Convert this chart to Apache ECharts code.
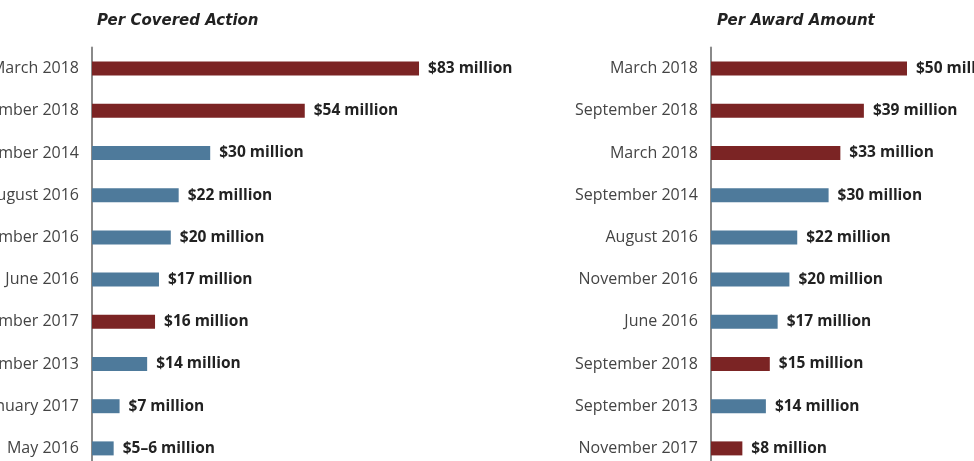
<!DOCTYPE html>
<html><head><meta charset="utf-8">
<script src="https://cdn.jsdelivr.net/npm/echarts@6/dist/echarts.min.js"></script>
<style>html,body{margin:0;padding:0;background:#fff}#c{width:974px;height:461px}</style>
</head><body><div id="c"></div>
<script>
// Per Covered Action
const actionCategories = ['March 2018','September 2018','September 2014','August 2016','November 2016','June 2016','November 2017','September 2013','January 2017','May 2016'];
const actionValues = [83, 54, 30, 22, 20, 17, 16, 14, 7, 5.5];
const actionLabels = ['$83 million','$54 million','$30 million','$22 million','$20 million','$17 million','$16 million','$14 million','$7 million','$5–6 million'];
const actionGroups = ['recent','recent','earlier','earlier','earlier','earlier','recent','earlier','earlier','earlier'];
// Per Award Amount
const awardCategories = ['March 2018','September 2018','March 2018','September 2014','August 2016','November 2016','June 2016','September 2018','September 2013','November 2017'];
const awardValues = [50, 39, 33, 30, 22, 20, 17, 15, 14, 8];
const awardLabels = ['$50 million','$39 million','$33 million','$30 million','$22 million','$20 million','$17 million','$15 million','$14 million','$8 million'];
const awardGroups = ['recent','recent','recent','earlier','earlier','earlier','earlier','recent','earlier','recent'];

const colors = {recent:'#7B2424', earlier:'#4E7A9B'};
const FONT = '"Open Sans", sans-serif';
const TFONT = '"DejaVu Sans", sans-serif';

function mkData(vals, groups){
  return vals.map((v,i)=>({value:v, itemStyle:{color:colors[groups[i]]}}));
}
function catAxis(idx, cats){
  return {type:'category', gridIndex:idx, data:cats, inverse:true,
    axisLine:{show:true, lineStyle:{color:'#8a8a8a', width:2}},
    axisTick:{show:false},
    axisLabel:{margin:13, fontSize:16, color:'#444', fontFamily:FONT}};
}
function valAxis(idx){
  return {type:'value', gridIndex:idx, min:0, max:100, show:false, splitLine:{show:false}};
}
function barSeries(idx, vals, groups, labels){
  return {type:'bar', xAxisIndex:idx, yAxisIndex:idx, data:mkData(vals, groups), barWidth:14,
    label:{show:true, position:'right', distance:9, fontSize:15.5, fontWeight:'bold', color:'#222', fontFamily:FONT,
      formatter:p=>labels[p.dataIndex]}};
}
const chart = echarts.init(document.getElementById('c'));
chart.setOption({
  animation:false,
  title:[
    {text:'Per Covered Action', left:92, top:9, textStyle:{fontSize:15, fontStyle:'italic', fontWeight:'bold', color:'#222', fontFamily:TFONT}},
    {text:'Per Award Amount', left:712, top:9, textStyle:{fontSize:15, fontStyle:'italic', fontWeight:'bold', color:'#222', fontFamily:TFONT}}
  ],
  grid:[
    {left:92, top:47.5, width:394, height:422, outerBoundsMode:'none', containLabel:false},
    {left:711, top:47.5, width:392, height:422, outerBoundsMode:'none', containLabel:false}
  ],
  xAxis:[valAxis(0), valAxis(1)],
  yAxis:[catAxis(0, actionCategories), catAxis(1, awardCategories)],
  series:[barSeries(0, actionValues, actionGroups, actionLabels), barSeries(1, awardValues, awardGroups, awardLabels)]
});
</script></body></html>
